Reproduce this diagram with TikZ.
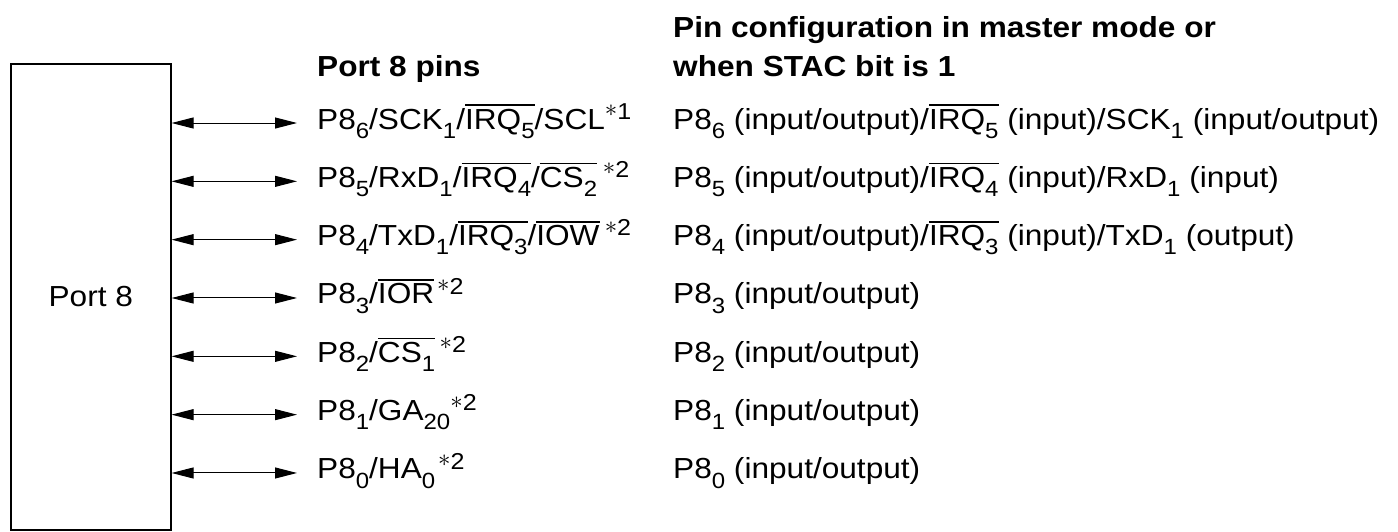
\documentclass[tikz,border=0pt]{standalone}
\usepackage{fontspec}
\setmainfont{Liberation Sans}[FakeStretch=1.09]
\usetikzlibrary{arrows.meta}
\newcommand\fs{\fontsize{29}{35}\selectfont}
\newcommand\myol[1]{\setbox0\hbox{#1}\rlap{\raisebox{0.79em}{\rule{\wd0}{0.065em}}}\box0\relax}
\newcommand\mysub[1]{\raisebox{-0.32em}{\fontsize{22}{22}\selectfont #1}}
\newcommand\mysup[1]{\raisebox{0.34em}{\fontsize{23}{23}\selectfont\raisebox{0.12em}{$\ast$}#1}}
\tikzset{
  lbl/.style={anchor=base west, inner sep=0pt, font=\fs},
  hdr/.style={anchor=base west, inner sep=0pt, font=\fs\bfseries},
  biarrow/.style={{Triangle[length=22pt,width=11pt]}-{Triangle[length=22pt,width=11pt]}, line width=1pt},
  portbox/.style={draw, line width=1.6pt, minimum width=160pt, minimum height=466pt, anchor=north west, inner sep=0pt, font=\fs}
}
\begin{document}
\begin{tikzpicture}[x=1pt,y=-1pt]
\useasboundingbox (0,0) rectangle (1398,531);
\node[portbox] (port) at (10,63) {Port 8};
\node[hdr] (h1) at (317,76) {Port 8 pins};
\node[hdr] (h2a) at (673,37) {Pin configuration in master mode or};
\node[hdr] (h2b) at (673,76) {when STAC bit is 1};
% pins
\foreach \i/\txt/\cfg in {
 0/{P8\mysub{6}/SCK\mysub{1}/\myol{IRQ\mysub{5}}/SCL\mysup{1}}/{P8\mysub{6} (input/output)/\myol{IRQ\mysub{5}} (input)/SCK\mysub{1} (input/output)},
 1/{P8\mysub{5}/RxD\mysub{1}/\myol{IRQ\mysub{4}}/\myol{CS\mysub{2}}\hspace{0.2em}\mysup{2}}/{P8\mysub{5} (input/output)/\myol{IRQ\mysub{4}} (input)/RxD\mysub{1} (input)},
 2/{P8\mysub{4}/TxD\mysub{1}/\myol{IRQ\mysub{3}}/\myol{IOW}\hspace{0.18em}\mysup{2}}/{P8\mysub{4} (input/output)/\myol{IRQ\mysub{3}} (input)/TxD\mysub{1} (output)},
 3/{P8\mysub{3}/\myol{IOR}\hspace{0.1em}\mysup{2}}/{P8\mysub{3} (input/output)},
 4/{P8\mysub{2}/\myol{CS\mysub{1}}\hspace{0.15em}\mysup{2}}/{P8\mysub{2} (input/output)},
 5/{P8\mysub{1}/GA\mysub{20}\mysup{2}}/{P8\mysub{1} (input/output)},
 6/{P8\mysub{0}/HA\mysub{0}\hspace{0.1em}\mysup{2}}/{P8\mysub{0} (input/output)}}{
  \pgfmathsetmacro\yy{123+58.33*\i}
  \node[lbl] (pin\i) at (317,\yy+6) {\txt};
  \node[lbl] (cfg\i) at (673,\yy+6) {\cfg};
  \coordinate (l\i) at (port.east |- 0,\yy);
  \coordinate (r\i) at (297,\yy);
  \draw[biarrow] (l\i) -- (r\i);
}
\end{tikzpicture}
\end{document}
